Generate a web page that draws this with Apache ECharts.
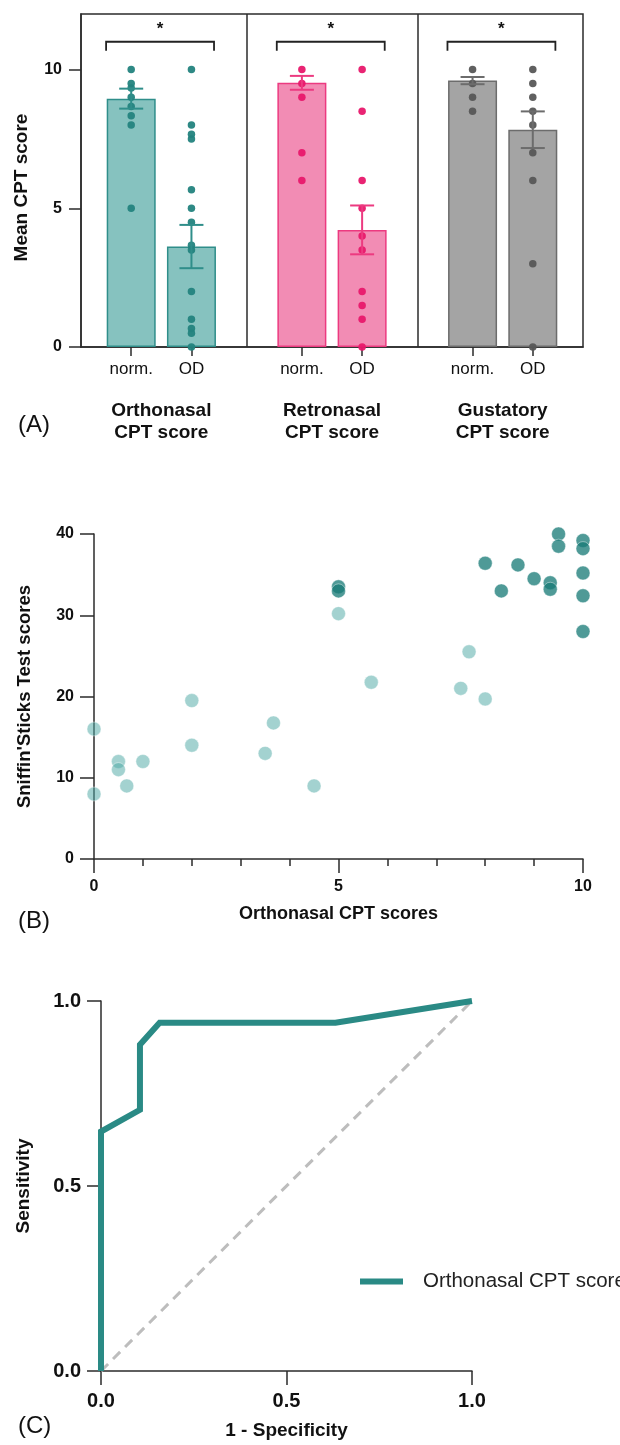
<!DOCTYPE html>
<html>
<head>
<meta charset="utf-8">
<style>
  html, body { margin: 0; padding: 0; background: #fff; }
  #chart { width: 620px; height: 1445px; }
</style>
<script src="https://cdn.jsdelivr.net/npm/echarts@6/dist/echarts.min.js"></script>
</head>
<body>
<div id="chart"></div>
<script>
// ---- (A) mean CPT score per test, normosmic vs OD ----
var subCats = ['norm.', 'OD'];
var groupNames = ['Orthonasal\nCPT score', 'Retronasal\nCPT score', 'Gustatory\nCPT score'];
var meanNorm = [8.95, 9.52, 9.60];
var meanOD = [3.62, 4.22, 7.83];
var semNorm = [0.36, 0.25, 0.13];
var semOD = [0.78, 0.88, 0.66];
var orthoNorm = [10, 9.5, 9.33, 9, 8.67, 8.33, 8, 5];
var orthoOD = [10, 8, 7.67, 7.5, 5.67, 5, 4.5, 3.67, 3.5, 2, 1, 0.67, 0.5, 0];
var retroNorm = [10, 9.5, 9, 7, 6];
var retroOD = [10, 8.5, 6, 5, 4, 3.5, 2, 1.5, 1, 0];
var gustNorm = [10, 9.5, 9, 8.5];
var gustOD = [10, 9.5, 9, 8.5, 8, 7, 6, 3, 0];
var yTicksA = [0, 5, 10];

// ---- (B) Sniffin'Sticks vs orthonasal CPT ----
var odPoints = [[0, 16], [0, 8], [0.5, 12], [0.5, 11], [0.67, 9], [1, 12], [2, 19.5], [2, 14],
  [3.5, 13], [3.67, 16.75], [4.5, 9], [5, 30.2], [5.67, 21.75], [7.5, 21], [7.67, 25.5], [8, 19.7]];
var normPoints = [[5, 33.5], [5, 33], [8, 36.4], [8.33, 33], [8.67, 36.2], [9, 34.5], [9.33, 34],
  [9.33, 33.2], [9.5, 40], [9.5, 38.5], [10, 39.2], [10, 38.2], [10, 35.2], [10, 32.4], [10, 28]];

// ---- (C) ROC curve ----
var rocX = [0, 0, 0.105, 0.105, 0.158, 0.632, 1];
var rocY = [0, 0.647, 0.706, 0.882, 0.941, 0.941, 1];
var chanceLine = [[0, 0], [1, 1]];

var fills = ['#86c2bf', '#f28cb4', '#a4a4a4'];
var edges = ['#2f8e8a', '#ec3a80', '#6c6c6c'];
var dots = ['#23837e', '#e8186b', '#575757'];
var dotSets = [[orthoNorm, orthoOD], [retroNorm, retroOD], [gustNorm, gustOD]];
var font = 'Liberation Sans, Arial, Helvetica, sans-serif';

function barPos(g, i) { return 1 + g * 3.4 + i * 1.2; }
var tickPos = [], barData = [], errData = [], bracketData = [], groupCenters = [];
groupNames.forEach(function (name, g) {
  var means = [meanNorm[g], meanOD[g]];
  var sems = [semNorm[g], semOD[g]];
  subCats.forEach(function (c, i) {
    tickPos.push(barPos(g, i));
    barData.push({ value: [barPos(g, i), means[i]], itemStyle: { color: fills[g], borderColor: edges[g], borderWidth: 1.5 } });
    errData.push({ value: [barPos(g, i), means[i] - sems[i], means[i] + sems[i]], itemStyle: { color: edges[g] } });
  });
  bracketData.push([barPos(g, 0) - 0.5, barPos(g, 1) + 0.45, 11]);
  groupCenters.push((barPos(g, 0) + barPos(g, 1)) / 2);
});
var dividers = [(barPos(0, 1) + barPos(1, 0)) / 2, (barPos(1, 1) + barPos(2, 0)) / 2];

function renderErr(params, api) {
  var x = api.value(0);
  var lo = api.coord([x, api.value(1)]);
  var hi = api.coord([x, api.value(2)]);
  var w = 12;
  var st = { stroke: api.visual('color'), lineWidth: 2 };
  return { type: 'group', children: [
    { type: 'line', shape: { x1: lo[0], y1: lo[1], x2: hi[0], y2: hi[1] }, style: st },
    { type: 'line', shape: { x1: lo[0] - w, y1: lo[1], x2: lo[0] + w, y2: lo[1] }, style: st },
    { type: 'line', shape: { x1: hi[0] - w, y1: hi[1], x2: hi[0] + w, y2: hi[1] }, style: st }
  ] };
}

function renderBracket(params, api) {
  var y = api.value(2);
  var l = api.coord([api.value(0), y]);
  var r = api.coord([api.value(1), y]);
  var foot = api.coord([api.value(0), y - 0.32]);
  return { type: 'group', children: [
    { type: 'polyline', shape: { points: [[l[0], foot[1]], l, r, [r[0], foot[1]]] },
      style: { stroke: '#222', lineWidth: 1.8, fill: null } },
    { type: 'text', x: (l[0] + r[0]) / 2, y: l[1] - 12,
      style: { text: '*', fill: '#111', font: 'bold 17px ' + font, align: 'center', verticalAlign: 'middle' } }
  ] };
}

var axisLine = { show: true, lineStyle: { color: '#2b2b2b', width: 1.5 } };
var tickStyle = { color: '#2b2b2b', width: 1.5 };
var boldLabel = { color: '#111', fontWeight: 'bold', fontFamily: font };

var myChart = echarts.init(document.getElementById('chart'));
var option = {
  animation: false,
  textStyle: { fontFamily: font },
  grid: [
    { left: 81, right: 37, top: 14, bottom: 1098, show: true, borderColor: '#2b2b2b', borderWidth: 1.5 },
    { left: 94, right: 37, top: 534, bottom: 586 },
    { left: 101, right: 148, top: 1001, bottom: 74 }
  ],
  xAxis: [
    {
      gridIndex: 0, type: 'value', min: 0, max: 10, splitLine: { show: false },
      axisLine: axisLine,
      axisTick: { customValues: tickPos, length: 9, lineStyle: tickStyle },
      axisLabel: {
        customValues: tickPos, margin: 14, fontSize: 17, color: '#111',
        formatter: function (v) {
          var k = tickPos.findIndex(function (p) { return Math.abs(p - v) < 1e-6; });
          return subCats[k % 2];
        }
      }
    },
    {
      gridIndex: 0, type: 'value', min: 0, max: 10, position: 'bottom', splitLine: { show: false },
      axisLine: { show: false }, axisTick: { show: false },
      axisLabel: Object.assign({
        customValues: groupCenters, margin: 53, fontSize: 19, lineHeight: 22,
        formatter: function (v) {
          var k = groupCenters.findIndex(function (p) { return Math.abs(p - v) < 1e-6; });
          return groupNames[k];
        }
      }, boldLabel)
    },
    {
      gridIndex: 1, type: 'value', min: 0, max: 10, interval: 5, splitLine: { show: false },
      axisLine: axisLine,
      axisTick: { length: 14, lineStyle: tickStyle },
      minorTick: { show: true, splitNumber: 5, length: 7, lineStyle: tickStyle },
      axisLabel: Object.assign({ fontSize: 16, margin: 20 }, boldLabel),
      name: 'Orthonasal CPT scores', nameLocation: 'middle', nameGap: 46,
      nameTextStyle: { fontSize: 18, fontWeight: 'bold', color: '#111' }
    },
    {
      gridIndex: 2, type: 'value', min: 0, max: 1, interval: 0.5, splitLine: { show: false },
      axisLine: axisLine,
      axisTick: { length: 14, lineStyle: tickStyle },
      axisLabel: Object.assign({ fontSize: 20, margin: 20, formatter: function (v) { return v.toFixed(1); } }, boldLabel),
      name: '1 - Specificity', nameLocation: 'middle', nameGap: 50,
      nameTextStyle: { fontSize: 19, fontWeight: 'bold', color: '#111' }
    }
  ],
  yAxis: [
    {
      gridIndex: 0, type: 'value', min: 0, max: 12, interval: 5, splitLine: { show: false },
      axisLine: axisLine,
      axisTick: { customValues: yTicksA, length: 12, lineStyle: tickStyle },
      axisLabel: Object.assign({ customValues: yTicksA, fontSize: 16, margin: 19 }, boldLabel),
      name: 'Mean CPT score', nameLocation: 'middle', nameGap: 50, nameRotate: 90,
      nameTextStyle: { fontSize: 19, fontWeight: 'bold', color: '#111', padding: [0, 14, 0, 0] }
    },
    {
      gridIndex: 1, type: 'value', min: 0, max: 40, interval: 10, splitLine: { show: false },
      axisLine: axisLine,
      axisTick: { length: 14, lineStyle: tickStyle },
      axisLabel: Object.assign({ fontSize: 16, margin: 20 }, boldLabel),
      name: "Sniffin'Sticks Test scores", nameLocation: 'middle', nameGap: 60,
      nameTextStyle: { fontSize: 18.5, fontWeight: 'bold', color: '#111' }
    },
    {
      gridIndex: 2, type: 'value', min: 0, max: 1, interval: 0.5, splitLine: { show: false },
      axisLine: axisLine,
      axisTick: { length: 14, lineStyle: tickStyle },
      axisLabel: Object.assign({ fontSize: 20, margin: 20, formatter: function (v) { return v.toFixed(1); } }, boldLabel),
      name: 'Sensitivity', nameLocation: 'middle', nameGap: 68,
      nameTextStyle: { fontSize: 19, fontWeight: 'bold', color: '#111' }
    }
  ],
  legend: {
    data: ['Orthonasal CPT score'], left: 360, top: 1271, icon: 'rect',
    itemWidth: 43, itemHeight: 6, padding: 0,
    textStyle: { fontSize: 20.5, color: '#222', padding: [0, 0, 0, 15] }
  },
  graphic: [
    { type: 'text', left: 18, top: 413, style: { text: '(A)', font: '24px ' + font, fill: '#111' } },
    { type: 'text', left: 18, top: 909, style: { text: '(B)', font: '24px ' + font, fill: '#111' } },
    { type: 'text', left: 18, top: 1414, style: { text: '(C)', font: '24px ' + font, fill: '#111' } }
  ],
  series: [
    {
      type: 'bar', xAxisIndex: 0, yAxisIndex: 0, barWidth: 49, data: barData, z: 2,
      markLine: {
        silent: true, symbol: 'none', label: { show: false },
        lineStyle: { color: '#2b2b2b', width: 1.5, type: 'solid' },
        data: dividers.map(function (d) { return { xAxis: d }; })
      }
    }
  ]
};

dotSets.forEach(function (pair, g) {
  pair.forEach(function (vals, i) {
    option.series.push({
      type: 'scatter', xAxisIndex: 0, yAxisIndex: 0, symbolSize: 7.5, z: 3,
      itemStyle: { color: dots[g], opacity: 0.95 },
      data: vals.map(function (v) { return [barPos(g, i), v]; })
    });
  });
});

option.series.push(
  { type: 'custom', xAxisIndex: 0, yAxisIndex: 0, renderItem: renderErr, data: errData, z: 4, encode: { x: 0, y: [1, 2] } },
  { type: 'custom', xAxisIndex: 0, yAxisIndex: 0, renderItem: renderBracket, data: bracketData, z: 4, encode: { x: [0, 1], y: 2 } },
  {
    type: 'scatter', xAxisIndex: 2, yAxisIndex: 1, symbolSize: 14, data: odPoints,
    itemStyle: { color: 'rgba(78,168,164,0.65)', borderColor: '#fff', borderWidth: 0.5 }
  },
  {
    type: 'scatter', xAxisIndex: 2, yAxisIndex: 1, symbolSize: 14, data: normPoints,
    itemStyle: { color: 'rgba(24,122,118,0.95)', borderColor: '#fff', borderWidth: 0.5 }
  },
  {
    type: 'line', xAxisIndex: 3, yAxisIndex: 2, data: chanceLine, symbol: 'none', silent: true,
    lineStyle: { color: '#bdbdbd', width: 3, type: [10, 7] }
  },
  {
    name: 'Orthonasal CPT score', type: 'line', xAxisIndex: 3, yAxisIndex: 2, symbol: 'none', z: 3,
    itemStyle: { color: '#2a8a85' },
    lineStyle: { color: '#2a8a85', width: 6, join: 'miter' },
    data: rocX.map(function (x, i) { return [x, rocY[i]]; })
  }
);

option && myChart.setOption(option);
</script>
</body>
</html>
